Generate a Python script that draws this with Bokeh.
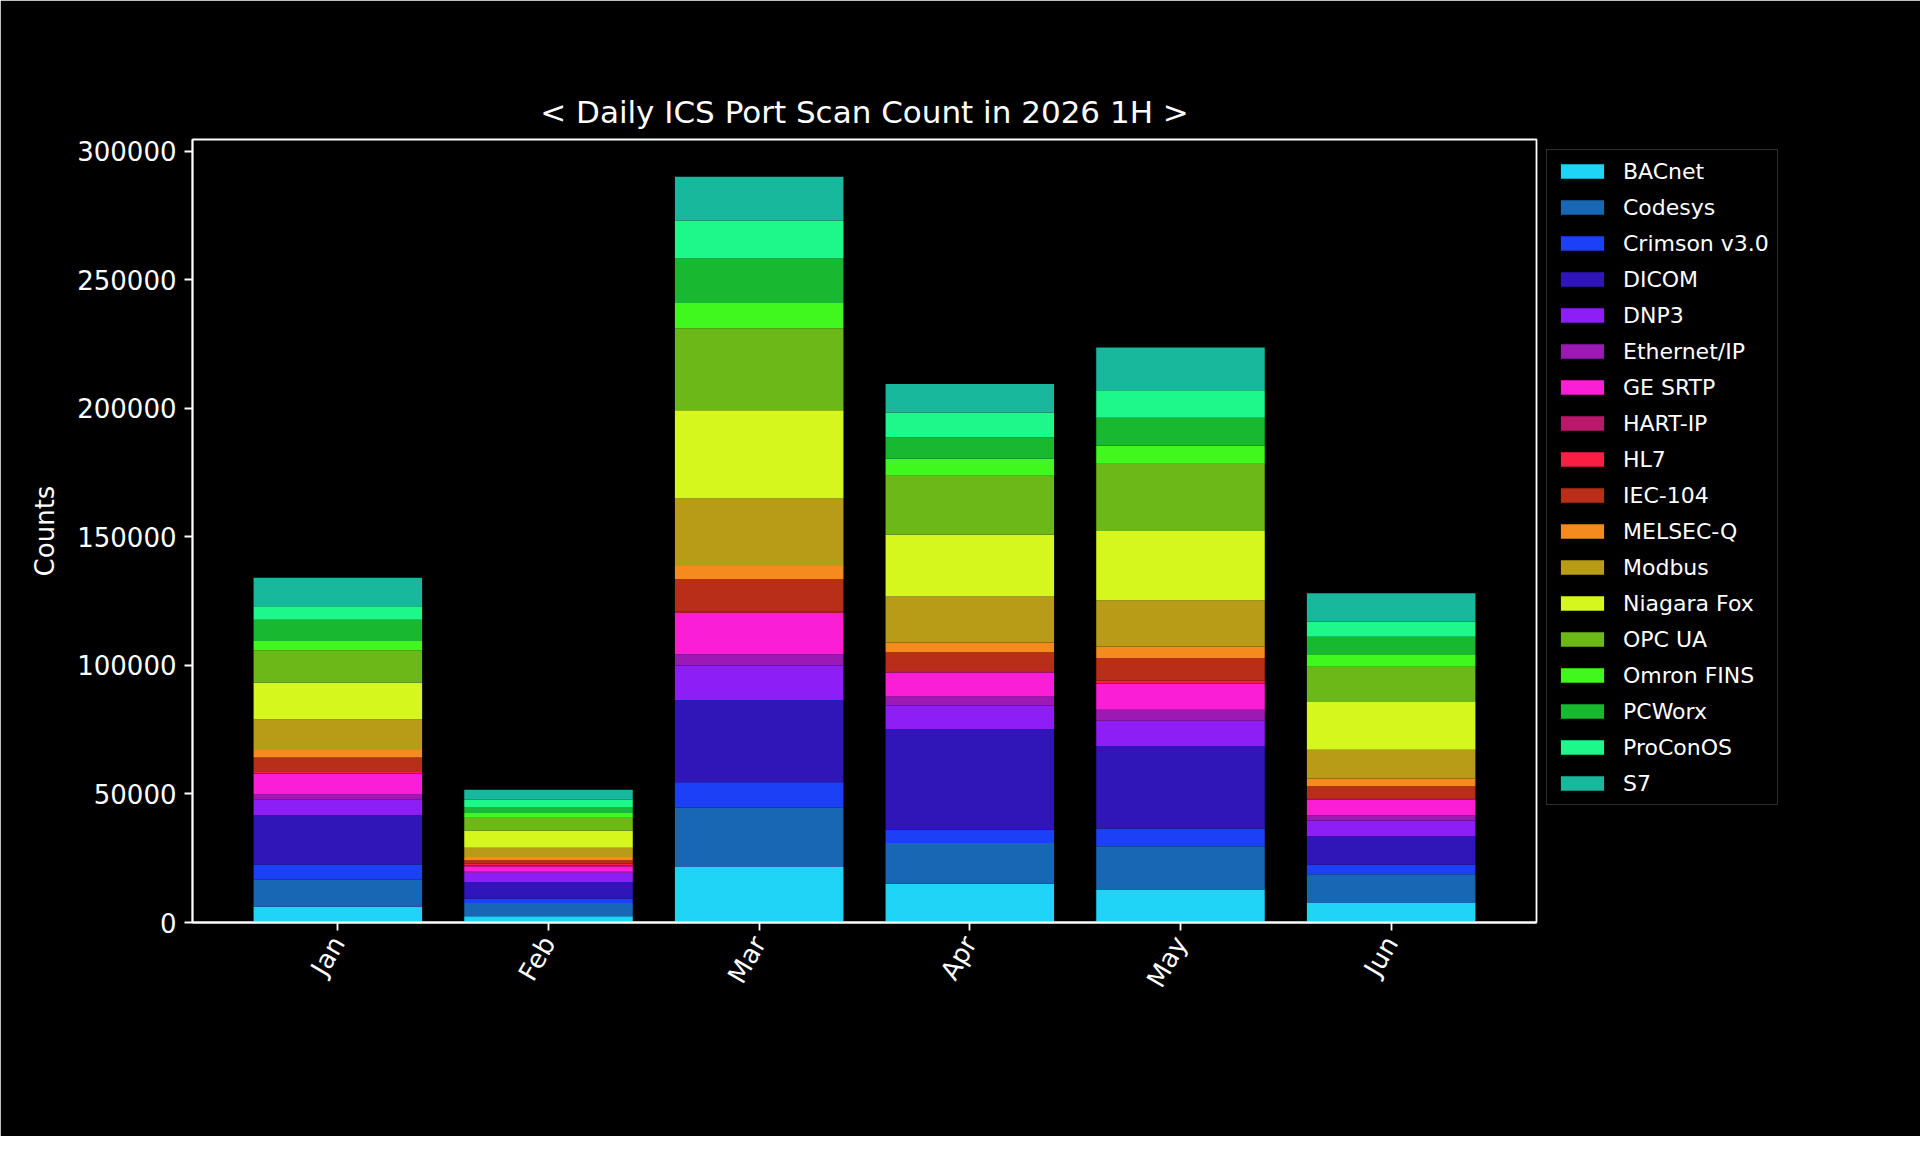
from bokeh.plotting import figure
from bokeh.models import ColumnDataSource, Range1d, FixedTicker, BasicTickFormatter, Legend
from bokeh.embed import file_html
from bokeh.resources import INLINE

months = ["Jan", "Feb", "Mar", "Apr", "May", "Jun"]
protocols = ["BACnet", "Codesys", "Crimson v3.0", "DICOM", "DNP3", "Ethernet/IP",
             "GE SRTP", "HART-IP", "HL7", "IEC-104", "MELSEC-Q", "Modbus",
             "Niagara Fox", "OPC UA", "Omron FINS", "PCWorx", "ProConOS", "S7"]
colors = ["#1fd4f7", "#1767b5", "#1c40f5", "#3016b8", "#8d1ef5", "#9c19b5",
          "#fa1ed6", "#b8196b", "#fa1e44", "#b82e18", "#f58a1e", "#b89c18",
          "#d6f71e", "#6bb818", "#40f71e", "#18b830", "#1ef78a", "#18b89c"]

bacnet = [6100, 2400, 21600, 15100, 12800, 7600]
codesys = [10600, 5200, 23000, 15800, 16900, 11200]
crimson = [5900, 1600, 10000, 5200, 6900, 3700]
dicom = [19100, 6600, 32000, 39200, 32100, 11100]
dnp3 = [6100, 3500, 13400, 9100, 9800, 6100]
ethernet_ip = [2000, 400, 4400, 3500, 4300, 2000]
ge_srtp = [8000, 2200, 16000, 9400, 10000, 6100]
hart_ip = [200, 300, 200, 200, 300, 200]
hl7 = [500, 700, 300, 300, 1000, 300]
iec104 = [5700, 1300, 12700, 7300, 8800, 4700]
melsec_q = [2900, 1300, 5100, 3800, 4500, 3000]
modbus = [12000, 3600, 26200, 17900, 18000, 11200]
niagara_fox = [14200, 6700, 34400, 24000, 26900, 18600]
opc_ua = [12600, 5200, 31900, 23000, 26500, 13700]
omron_fins = [3600, 1600, 9800, 6700, 6700, 4900]
pcworx = [8300, 2300, 17300, 8300, 10900, 6800]
proconos = [5200, 2900, 14700, 9600, 10700, 5900]
s7 = [11100, 3800, 17100, 11100, 16600, 11000]

series = [bacnet, codesys, crimson, dicom, dnp3, ethernet_ip, ge_srtp, hart_ip, hl7,
          iec104, melsec_q, modbus, niagara_fox, opc_ua, omron_fins, pcworx, proconos, s7]

data = {"x": list(range(len(months)))}
for name, vals in zip(protocols, series):
    data[name] = vals
source = ColumnDataSource(data)

FONT = "DejaVu Sans"
WHITE = "#ffffff"

p = figure(frame_width=1344, frame_height=783,
           min_border_left=192, min_border_right=300,
           min_border_top=139, min_border_bottom=214,
           x_range=Range1d(-0.69, 5.69), y_range=Range1d(0, 304600),
           output_backend="svg", toolbar_location=None,
           background_fill_color="black", border_fill_color="black",
           outline_line_color=WHITE, outline_line_width=1.8)

renderers = p.vbar_stack(protocols, x="x", width=0.8, color=colors, source=source,
                         line_width=0)

p.title.text = "< Daily ICS Port Scan Count in 2026 1H >"
p.title.text_color = WHITE
p.title.text_font = FONT
p.title.text_font_size = "31px"
p.title.text_font_style = "normal"
p.title.align = "center"
p.title.standoff = 20

p.xgrid.grid_line_color = None
p.ygrid.grid_line_color = None

for ax in (p.xaxis[0], p.yaxis[0]):
    ax.axis_line_color = WHITE
    ax.axis_line_width = 1.8
    ax.major_tick_line_color = WHITE
    ax.major_tick_line_width = 1.8
    ax.major_tick_out = 8
    ax.major_tick_in = 0
    ax.minor_tick_line_color = None
    ax.major_label_text_color = WHITE
    ax.major_label_text_font = FONT
    ax.major_label_text_font_size = "26px"
    ax.major_label_standoff = 8

p.xaxis.ticker = FixedTicker(ticks=list(range(len(months))))
p.xaxis.major_label_overrides = {i: m for i, m in enumerate(months)}
p.xaxis.major_label_orientation = 1.0472

p.yaxis.ticker = FixedTicker(ticks=[0, 50000, 100000, 150000, 200000, 250000, 300000])
p.yaxis.formatter = BasicTickFormatter(use_scientific=False)
p.yaxis.axis_label = "Counts"
p.yaxis.axis_label_text_color = WHITE
p.yaxis.axis_label_text_font = FONT
p.yaxis.axis_label_text_font_size = "26px"
p.yaxis.axis_label_text_font_style = "normal"
p.yaxis.axis_label_standoff = 14

legend = Legend(items=[(name, [r]) for name, r in zip(protocols, renderers)],
                location="top_left")
legend.background_fill_color = "black"
legend.background_fill_alpha = 0.8
legend.border_line_color = "#5a5a5a"
legend.border_line_width = 1.5
legend.label_text_color = WHITE
legend.label_text_font = FONT
legend.label_text_font_size = "22px"
legend.glyph_width = 54
legend.glyph_height = 18
legend.label_height = 26
legend.spacing = 10
legend.padding = 8
legend.margin = 10
legend.label_standoff = 14
p.add_layout(legend, "right")

open("out.html", "w").write(file_html(p, INLINE))
